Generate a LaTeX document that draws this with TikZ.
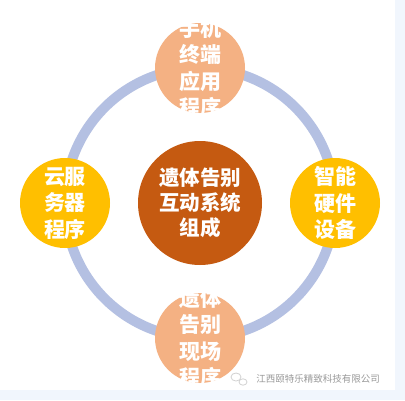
\documentclass[tikz,border=0pt]{standalone}
\usepackage{fontspec}
\newfontfamily\cjk{Noto Sans CJK SC}
\usetikzlibrary{positioning}

\definecolor{ringblue}{HTML}{B4C0E2}
\definecolor{peach}{HTML}{F4B183}
\definecolor{gold}{HTML}{FFBF00}
\definecolor{rust}{HTML}{C55A11}
\definecolor{paleblue}{HTML}{F1F6FD}

\tikzset{
  part/.style={circle, minimum size=90pt, inner sep=0pt, fill=#1},
  words/.style={text=white, align=center, inner sep=0pt,
    font=\cjk\bfseries\fontsize{21}{26.5}\selectfont},
  hub/.style={circle, minimum size=124pt, inner sep=0pt, fill=rust, text=white,
    align=center, font=\cjk\bfseries\fontsize{20.5}{25}\selectfont},
}

\begin{document}
\begin{tikzpicture}[x=1pt,y=-1pt]
   \useasboundingbox (0,0) rectangle (405,400);
   \fill[white] (0,0) rectangle (405,400);
   \fill[paleblue] (395,0) rectangle (405,400);
   \fill[paleblue] (0,390) rectangle (405,400);

   % ring
   \coordinate (o) at (200,203);
   \draw[ringblue, line width=10pt] (o) circle[radius=135];

   \node[part=peach, label={[words]center:{手机\\终端\\应用\\程序}}] (app) at (200,68) {};
   \node[part=gold, label={[words]center:{云服\\务器\\程序}}] (cloud) at (65,203) {};
   \node[part=gold, label={[words]center:{智能\\硬件\\设备}}] (smart) at (335,203) {};
   \node[part=peach, label={[words]center:{遗体\\告别\\现场\\程序}}] (site) at (200,338) {};
   \node[hub] (sys) at (200,203) {遗体告别\\互动系统\\组成};

   % watermark
   \node[text=gray!80, font=\cjk\fontsize{9.5}{10}\selectfont] (mark) at (318,379) {江西颐特乐精致科技有限公司};
   \draw[gray!35, line width=0.8pt] (236,377) circle[x radius=5, y radius=4]
     (243,382) circle[x radius=4, y radius=3.2];
\end{tikzpicture}
\end{document}
